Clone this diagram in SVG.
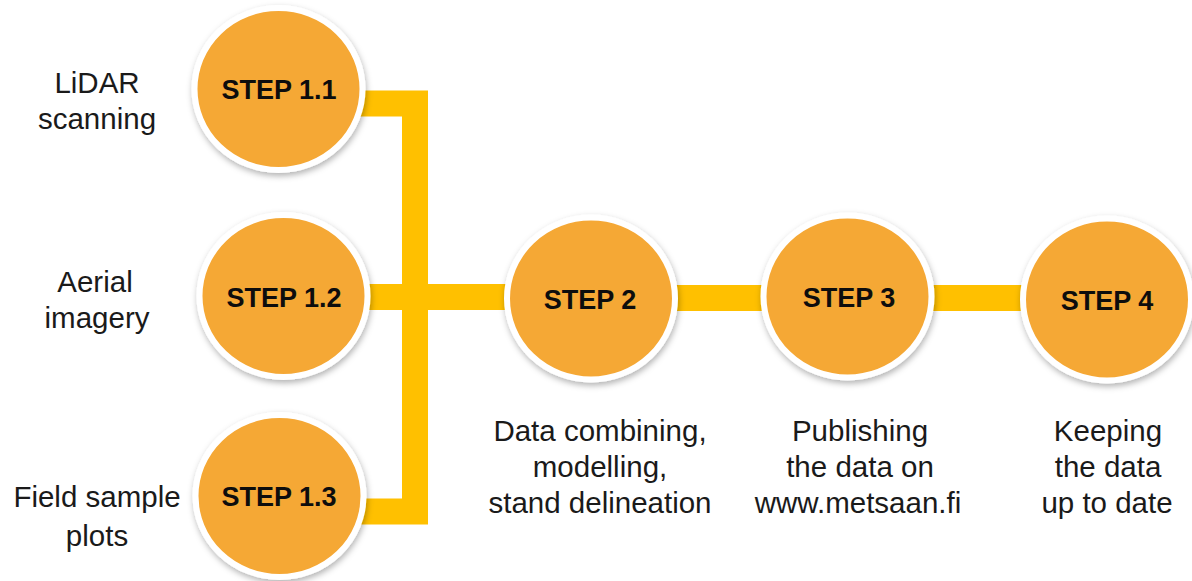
<svg xmlns="http://www.w3.org/2000/svg" width="1192" height="581" viewBox="0 0 1192 581">
  <style>
    .node { fill: #F5A835; stroke: #FFFFFF; stroke-width: 6; filter: url(#shadow); }
    .step { font-family: "Liberation Sans", Arial, sans-serif; font-weight: bold; font-size: 27px; fill: #0D0D0D; text-anchor: middle; }
    .label { font-family: "Liberation Sans", Arial, sans-serif; font-size: 29.5px; fill: #1A1A1A; text-anchor: middle; }
    .conn { fill: none; stroke: #FFC000; stroke-width: 26; stroke-linejoin: miter; stroke-linecap: butt; }
  </style>
  <defs>
    <filter id="shadow" x="-20%" y="-20%" width="140%" height="150%">
      <feDropShadow dx="1" dy="3" stdDeviation="3" flood-color="#000000" flood-opacity="0.3"/>
    </filter>
  </defs>
  <rect width="1192" height="581" fill="#FFFFFF"/>

  <g id="connectors">
    <path class="conn" d="M 355 103.5 H 415 V 511.5 H 355"/>
    <path class="conn" d="M 360 297 H 510"/>
    <path class="conn" d="M 670 298 H 770"/>
    <path class="conn" d="M 925 298 H 1030"/>
  </g>

  <g id="step11">
    <ellipse class="node" cx="278.5" cy="89" rx="84" ry="81"/>
    <text class="step" x="279" y="99">STEP 1.1</text>
  </g>
  <g id="step12">
    <ellipse class="node" cx="283.5" cy="296" rx="84" ry="81"/>
    <text class="step" x="284" y="307">STEP 1.2</text>
  </g>
  <g id="step13">
    <ellipse class="node" cx="279.5" cy="496" rx="84" ry="81"/>
    <text class="step" x="279" y="506">STEP 1.3</text>
  </g>
  <g id="step2">
    <ellipse class="node" cx="591" cy="298.5" rx="84" ry="81"/>
    <text class="step" x="590" y="309">STEP 2</text>
  </g>
  <g id="step3">
    <ellipse class="node" cx="847.5" cy="296.5" rx="84" ry="81"/>
    <text class="step" x="849" y="307">STEP 3</text>
  </g>
  <g id="step4">
    <ellipse class="node" cx="1107" cy="299.5" rx="84" ry="81"/>
    <text class="step" x="1107" y="310">STEP 4</text>
  </g>

  <g id="label-lidar">
    <text class="label" x="97" y="93">LiDAR</text>
    <text class="label" x="97" y="129">scanning</text>
  </g>
  <g id="label-aerial">
    <text class="label" x="95" y="292">Aerial</text>
    <text class="label" x="97" y="328">imagery</text>
  </g>
  <g id="label-field">
    <text class="label" x="97" y="507">Field sample</text>
    <text class="label" x="97" y="546">plots</text>
  </g>
  <g id="label-step2">
    <text class="label" x="600" y="441">Data combining,</text>
    <text class="label" x="600" y="477">modelling,</text>
    <text class="label" x="600" y="513">stand delineation</text>
  </g>
  <g id="label-step3">
    <text class="label" x="860" y="441">Publishing</text>
    <text class="label" x="860" y="477">the data on</text>
    <text class="label" x="858" y="513">www.metsaan.fi</text>
  </g>
  <g id="label-step4">
    <text class="label" x="1108" y="441">Keeping</text>
    <text class="label" x="1108" y="477">the data</text>
    <text class="label" x="1107" y="513">up to date</text>
  </g>
</svg>
